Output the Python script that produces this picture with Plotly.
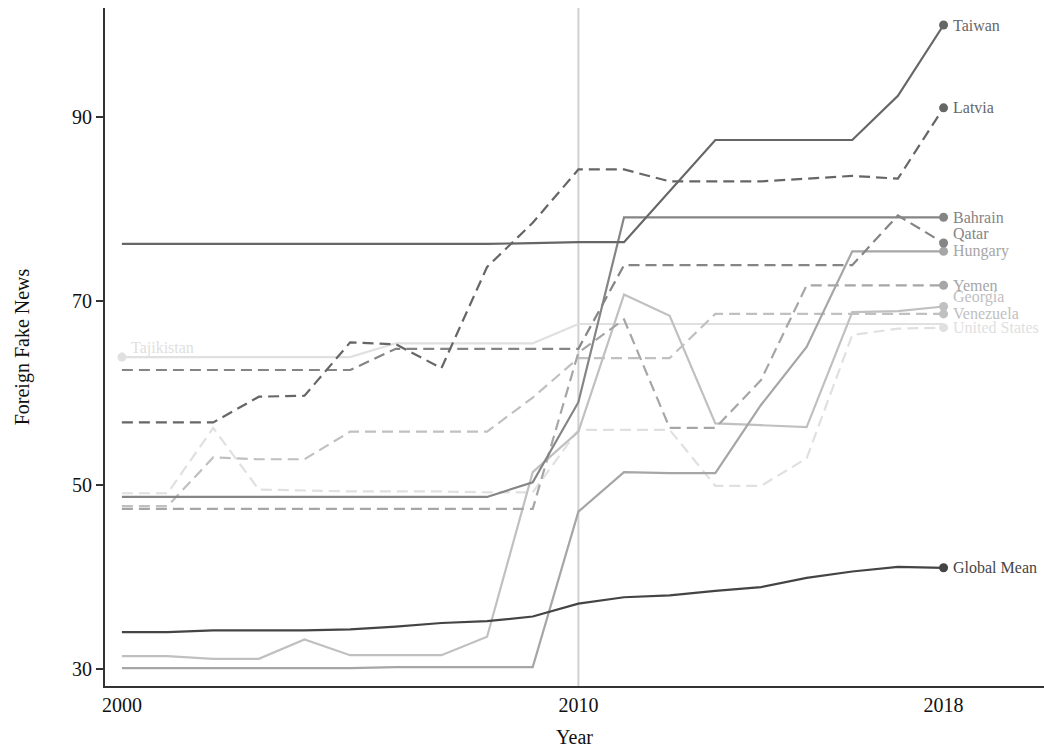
import plotly.graph_objects as go

years = list(range(2000, 2019))

taiwan = [76.2, 76.2, 76.2, 76.2, 76.2, 76.2, 76.2, 76.2, 76.2, 76.3, 76.4, 76.4, 82.0, 87.5, 87.5, 87.5, 87.5, 92.3, 100.0]
latvia = [56.8, 56.8, 56.8, 59.6, 59.7, 65.5, 65.3, 62.7, 73.7, 78.5, 84.3, 84.3, 83.0, 83.0, 83.0, 83.3, 83.6, 83.3, 91.0]
bahrain = [48.7, 48.7, 48.7, 48.7, 48.7, 48.7, 48.7, 48.7, 48.7, 50.3, 59.0, 79.1, 79.1, 79.1, 79.1, 79.1, 79.1, 79.1, 79.1]
qatar = [62.5, 62.5, 62.5, 62.5, 62.5, 62.5, 64.8, 64.8, 64.8, 64.8, 64.8, 73.9, 73.9, 73.9, 73.9, 73.9, 73.9, 79.3, 76.3]
hungary = [30.1, 30.1, 30.1, 30.1, 30.1, 30.1, 30.2, 30.2, 30.2, 30.2, 47.1, 51.4, 51.3, 51.3, 58.7, 65.0, 75.4, 75.4, 75.4]
yemen = [47.4, 47.4, 47.4, 47.4, 47.4, 47.4, 47.4, 47.4, 47.4, 47.4, 64.4, 68.0, 56.2, 56.2, 61.4, 71.7, 71.7, 71.7, 71.7]
georgia = [31.4, 31.4, 31.1, 31.1, 33.2, 31.5, 31.5, 31.5, 33.5, 51.4, 55.8, 70.7, 68.4, 56.7, 56.5, 56.3, 68.8, 68.9, 69.4]
venezuela = [47.7, 47.7, 53.0, 52.8, 52.8, 55.8, 55.8, 55.8, 55.8, 59.5, 63.8, 63.8, 63.8, 68.6, 68.6, 68.6, 68.6, 68.6, 68.6]
united_states = [49.1, 49.1, 56.2, 49.5, 49.4, 49.3, 49.3, 49.3, 49.2, 49.2, 56.0, 56.0, 56.0, 49.9, 49.9, 52.9, 66.3, 67.0, 67.1]
tajikistan = [63.9, 63.9, 63.9, 63.9, 63.9, 63.9, 65.4, 65.4, 65.4, 65.4, 67.5, 67.5, 67.5, 67.5, 67.5, 67.5, 67.5, 67.5, 67.5]
global_mean = [34.0, 34.0, 34.2, 34.2, 34.2, 34.3, 34.6, 35.0, 35.2, 35.7, 37.1, 37.8, 38.0, 38.5, 38.9, 39.9, 40.6, 41.1, 41.0]

y_ticks = [30, 50, 70, 90]
x_ticks = [2000, 2010, 2018]
reference_year = 2010

# name, values, color, dash, label position ("end"/"start"), label y-shift (px)
series = [
    ("Tajikistan", tajikistan, "#e0e0e0", "solid", "start", 9),
    ("United States", united_states, "#e0e0e0", "11px,6px", "end", 0),
    ("Georgia", georgia, "#c0c0c0", "solid", "end", 10),
    ("Venezuela", venezuela, "#c0c0c0", "11px,6px", "end", 0),
    ("Hungary", hungary, "#a6a6a6", "solid", "end", 0),
    ("Yemen", yemen, "#a6a6a6", "11px,6px", "end", 0),
    ("Bahrain", bahrain, "#858585", "solid", "end", 0),
    ("Qatar", qatar, "#858585", "11px,6px", "end", 10),
    ("Taiwan", taiwan, "#666666", "solid", "end", 0),
    ("Latvia", latvia, "#666666", "11px,6px", "end", 0),
    ("Global Mean", global_mean, "#444444", "solid", "end", 0),
]

FONT = "Liberation Serif"
fig = go.Figure()
annotations = []
for name, vals, color, dash, pos, ysh in series:
    fig.add_trace(go.Scatter(x=years, y=vals, mode="lines", name=name,
                             line=dict(color=color, width=2.2, dash=dash),
                             hoverinfo="x+y+name"))
    idx = -1 if pos == "end" else 0
    fig.add_trace(go.Scatter(x=[years[idx]], y=[vals[idx]], mode="markers",
                             marker=dict(color=color, size=9), hoverinfo="skip"))
    annotations.append(dict(x=years[idx], y=vals[idx], xref="x", yref="y",
                            text=name, showarrow=False, xanchor="left",
                            yanchor="middle", xshift=7, yshift=ysh,
                            font=dict(family=FONT, size=16, color=color)))

fig.add_shape(type="line", x0=reference_year, x1=reference_year, y0=0, y1=1,
              xref="x", yref="paper", line=dict(color="#d0d0d0", width=2),
              layer="below")

fig.update_layout(
    width=1044, height=748,
    margin=dict(l=105, r=0, t=8, b=62),
    paper_bgcolor="white", plot_bgcolor="white",
    showlegend=False,
    font=dict(family=FONT, color="#111111"),
    annotations=annotations,
    xaxis=dict(range=[1999.63, 2020.2], tickvals=x_ticks, ticks="",
               showgrid=False, zeroline=False, showline=True,
               linecolor="#333333", linewidth=2,
               tickfont=dict(family=FONT, size=20, color="#111111"),
               title=dict(text="Year", standoff=15,
                          font=dict(family=FONT, size=20, color="#111111"))),
    yaxis=dict(range=[28.15, 101.85], tickvals=y_ticks, ticks="outside",
               ticklen=7, tickwidth=1.5, tickcolor="#333333",
               showgrid=False, zeroline=False, showline=True,
               linecolor="#333333", linewidth=2,
               tickfont=dict(family=FONT, size=20, color="#111111"),
               title=dict(text="Foreign Fake News", standoff=37,
                          font=dict(family=FONT, size=20, color="#111111"))),
)

fig.write_html("out.html", config={"displayModeBar": False},
               post_script="document.body.style.margin='0';document.body.style.overflow='hidden';")
